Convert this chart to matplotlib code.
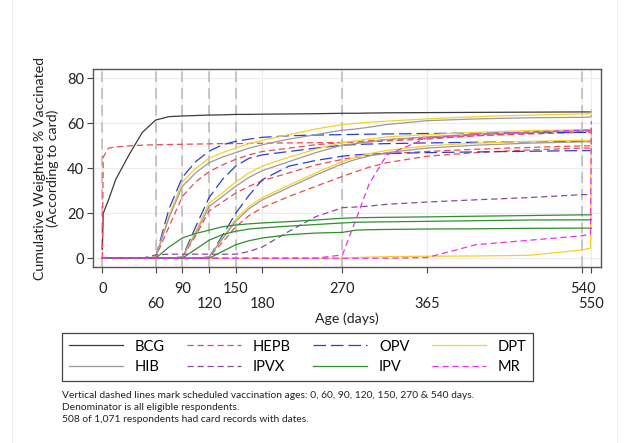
import matplotlib
matplotlib.use('Agg')
import matplotlib.pyplot as plt
from matplotlib.lines import Line2D

plt.rcParams['font.family'] = ['Lato', 'DejaVu Sans']

# shared age grid (days) and the curves (% vaccinated)
days = [0, 1, 7, 15, 30, 45, 60, 75, 90, 105, 120, 135, 150, 165, 180, 210, 240,
        270, 285, 300, 320, 365, 420, 480, 540, 549, 550]

bcg = [4, 20, 26, 35, 46, 56, 61.5, 63, 63.3, 63.5, 63.7, 63.8, 64, 64, 64.1, 64.2, 64.3,
       64.5, 64.5, 64.6, 64.7, 64.8, 64.9, 65, 65.1, 65.1, 65.1]

hepb0 = [0, 45, 49, 49.5, 50, 50.3, 50.5, 50.6, 50.7, 50.8, 50.9, 51, 51, 51.1, 51.2, 51.3, 51.4,
         51.5, 51.6, 51.8, 52.2, 53, 54.5, 55.8, 56.5, 56.5, 57]
hepb1 = [0, 0, 0, 0, 0, 0, 0.5, 14, 27.5, 34, 38.5, 41.5, 44, 46, 47.5, 49, 50.5,
         51.5, 52, 52.3, 52.7, 53.5, 54.5, 55.3, 56, 56, 57]
hepb2 = [0, 0, 0, 0, 0, 0, 0, 0, 0.5, 10, 21, 25, 29, 32, 34.5, 38, 41.5,
         44, 45, 45.8, 46.5, 47.5, 48.5, 49.3, 50, 50, 50.5]
hepb3 = [0, 0, 0, 0, 0, 0, 0, 0, 0, 0, 0.5, 7, 14, 19, 22.5, 27.5, 32,
         36.4, 38.5, 40.5, 42.5, 45.4, 47, 48.2, 49, 49, 49.5]

opv1 = [0, 0, 0, 0, 0, 0, 0.5, 22, 36, 43, 47.6, 50.5, 52, 53, 53.8, 54.5, 54.8,
        55, 55.1, 55.2, 55.3, 55.5, 55.7, 55.8, 56, 56, 56]
opv2 = [0, 0, 0, 0, 0, 0, 0, 0, 0.5, 14, 27, 35, 41, 44.5, 46, 47.5, 49,
        50.3, 50.6, 50.8, 51, 51.3, 51.6, 51.8, 52, 52, 52]
opv3 = [0, 0, 0, 0, 0, 0, 0, 0, 0, 0, 0.5, 10, 20, 28, 35, 41, 43.5,
        45.4, 46, 46.3, 46.6, 47, 47.3, 47.6, 47.9, 47.9, 48]

dpt1 = [0, 0, 0, 0, 0, 0, 0.5, 19, 34, 40, 44.5, 47, 49, 51, 52.5, 55, 57.5,
        59.5, 60, 60.5, 61, 62, 63, 63.7, 64.2, 64.3, 66]
dpt2 = [0, 0, 0, 0, 0, 0, 0, 0, 0.5, 12, 24.5, 29, 34, 38, 41, 45, 48.5,
        51.5, 52.2, 53, 54, 55, 56, 56.8, 57.2, 57.3, 58]
dpt3 = [0, 0, 0, 0, 0, 0, 0, 0, 0, 0, 0.5, 9, 17.5, 23, 27, 32.5, 38,
        43, 45, 46.5, 48, 50, 51.2, 52, 52.5, 52.5, 53]
dpt4 = [0, 0, 0, 0, 0, 0, 0, 0, 0, 0, 0, 0, 0, 0, 0, 0, 0,
        0, 0.3, 0.5, 0.7, 0.9, 1, 1.3, 3.7, 4.5, 58]

hib1 = [0, 0, 0, 0, 0, 0, 0.5, 18, 32, 38, 42.5, 45, 47, 49, 50.5, 53, 55,
        57, 57.5, 58.3, 59.5, 61.2, 62, 62.5, 62.7, 62.8, 63.5]
hib2 = [0, 0, 0, 0, 0, 0, 0, 0, 0.5, 11, 23, 27.5, 32, 36, 39, 43, 47,
        50.3, 51, 51.8, 52.8, 54, 55.2, 56, 56.7, 56.8, 57.5]
hib3 = [0, 0, 0, 0, 0, 0, 0, 0, 0, 0, 0.5, 8.5, 16.5, 22, 26, 31.5, 37,
        42, 44, 45.5, 47, 49, 50.3, 51.2, 51.8, 51.8, 52.3]

ipvx = [0, 0, 0, 0, 0, 0, 1.5, 1.8, 1.8, 1.8, 1.8, 1.8, 1.8, 3, 5, 12, 18.5,
        22.5, 22.8, 23.2, 24, 25, 26, 27, 28.3, 28.3, 28.3]

ipv1 = [0, 0, 0, 0, 0, 0, 0, 5, 9, 11, 12.5, 14, 14.8, 15.3, 15.7, 16.3, 17,
        17.8, 18, 18.1, 18.2, 18.4, 18.7, 19, 19.3, 19.3, 19.3]
ipv2 = [0, 0, 0, 0, 0, 0, 0, 0, 0, 4, 8, 10.5, 12, 13, 13.5, 14.3, 15,
        15.7, 16, 16.1, 16.2, 16.4, 16.7, 17, 17.1, 17.1, 17.1]
ipv3 = [0, 0, 0, 0, 0, 0, 0, 0, 0, 0, 0, 3, 6, 7.8, 9, 10.5, 11.2,
        11.5, 12.5, 12.7, 12.8, 13, 13.1, 13.3, 13.4, 13.4, 13.4]

mr1 = [0, 0, 0, 0, 0, 0, 0, 0, 0, 0, 0, 0, 0, 0, 0, 0, 0,
       1.5, 17, 33, 46, 53.5, 55, 56.2, 57, 57, 57]
mr2 = [0, 0, 0, 0, 0, 0, 0, 0, 0, 0, 0, 0, 0, 0, 0, 0, 0,
       0, 0, 0, 0, 0.3, 6, 8, 10, 10.8, 61]

schedule = [0, 60, 90, 120, 150, 270, 540]
upper_ticks = [0, 90, 150, 270, 540]
lower_ticks = [60, 120, 180, 365, 550]

notes = ['Vertical dashed lines mark scheduled vaccination ages: 0, 60, 90, 120, 150, 270 & 540 days.',
         'Denominator is all eligible respondents.',
         '508 of 1,071 respondents had card records with dates.']

c_bcg, c_hib = '#3c3c3c', '#9a9a9a'
c_hepb, c_ipvx = '#ee4a4f', '#8a4a9c'
c_opv, c_ipv = '#2a3fd0', '#2f8f2f'
c_dpt, c_mr = '#f4d12a', '#ee30ee'
short = (5, 3)
long_ = (10, 4)
lw = 0.9

fig = plt.figure(figsize=(6.24, 4.43), dpi=100)
ax = fig.add_axes([93 / 624, 1 - 267 / 443, (600.7 - 93) / 624, (267 - 69) / 443])

for x in schedule:
    ax.axvline(x, color='#b8b8b8', lw=1.1, dashes=(7, 4), zorder=1)

ax.plot(days, bcg, color=c_bcg, lw=lw, zorder=3)
for s in [hepb0, hepb1, hepb2, hepb3]:
    ax.plot(days, s, color=c_hepb, lw=lw, dashes=short, zorder=3)
for s in [opv1, opv2, opv3]:
    ax.plot(days, s, color=c_opv, lw=lw, dashes=long_, zorder=3)
for s in [dpt1, dpt2, dpt3, dpt4]:
    ax.plot(days, s, color=c_dpt, lw=lw, zorder=3)
for s in [hib1, hib2, hib3]:
    ax.plot(days, s, color=c_hib, lw=lw, zorder=3)
ax.plot(days, ipvx, color=c_ipvx, lw=lw, dashes=short, zorder=3)
for s in [ipv1, ipv2, ipv3]:
    ax.plot(days, s, color=c_ipv, lw=lw, zorder=3)
for s in [mr1, mr2]:
    ax.plot(days, s, color=c_mr, lw=lw, dashes=short, zorder=3)

ax.set_xlim(-10.5, 560.5)
ax.set_ylim(-3.9, 84.2)
ax.set_yticks([0, 20, 40, 60, 80])
ax.set_xticks(upper_ticks)
ax.set_xticks(lower_ticks, minor=True)
ax.set_xticklabels([str(t) for t in upper_ticks])
ax.set_xticklabels([str(t) for t in lower_ticks], minor=True)
ax.grid(True, which='both', color='#ececec', lw=0.8, zorder=0)
ax.set_axisbelow(True)

ax.tick_params(axis='both', which='both', direction='out', length=4.3, width=0.8,
               color='#444444', labelsize=10.5, labelcolor='#222222')
ax.tick_params(axis='x', which='major', pad=6.5)
ax.tick_params(axis='x', which='minor', pad=17)
ax.tick_params(axis='y', pad=2)
for sp in ax.spines.values():
    sp.set_color('#555555')
    sp.set_linewidth(1.0)

ax.set_ylabel('Cumulative Weighted % Vaccinated\n(According to card)', fontsize=10.2,
              color='#222222', labelpad=6, linespacing=1.05)
ax.set_xlabel('Age (days)', fontsize=10.2, color='#222222', labelpad=1)

handles = [Line2D([], [], color=c_bcg, lw=lw), Line2D([], [], color=c_hib, lw=lw),
           Line2D([], [], color=c_hepb, lw=lw, dashes=short), Line2D([], [], color=c_ipvx, lw=lw, dashes=short),
           Line2D([], [], color=c_opv, lw=lw, dashes=long_), Line2D([], [], color=c_ipv, lw=lw),
           Line2D([], [], color=c_dpt, lw=lw), Line2D([], [], color=c_mr, lw=lw, dashes=short)]
labels = ['BCG', 'HIB', 'HEPB', 'IPVX', 'OPV', 'IPV', 'DPT', 'MR']
leg = fig.legend(handles, labels, ncol=4, loc='upper left',
                 bbox_to_anchor=(62 / 624, 1 - 382 / 443, 471 / 624, 49 / 443),
                 mode='expand', borderaxespad=0, frameon=True, fancybox=False,
                 edgecolor='#444444', framealpha=1, fontsize=10.5, handlelength=3.7,
                 handletextpad=0.8, labelspacing=0.45, borderpad=0.45)
leg.get_frame().set_linewidth(0.9)

for i, line in enumerate(notes):
    fig.text(62 / 624, 1 - (395 + 12 * i) / 443, line, fontsize=7.4, color='#222222',
             va='center', ha='left')

# faint outer panel edges
fig.add_artist(Line2D([12 / 624, 12 / 624], [0, 1], color='#eeeeee', lw=0.8))
fig.add_artist(Line2D([617 / 624, 617 / 624], [0, 1], color='#eeeeee', lw=0.8))

fig.savefig('out.png', dpi=100)
